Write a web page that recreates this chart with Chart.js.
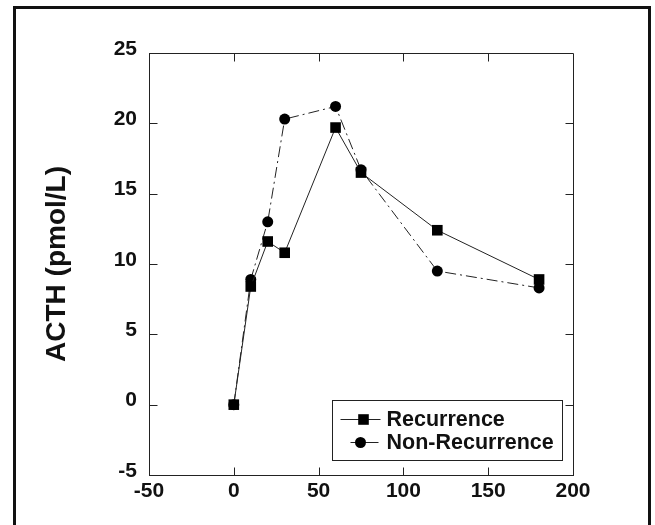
<!DOCTYPE html>
<html>
<head>
<meta charset="utf-8">
<script src="https://cdn.jsdelivr.net/npm/chart.js@4.4.1/dist/chart.umd.min.js"></script>
<style>
 body { margin: 0; background: #fff; overflow: hidden; }
 #wrap { position: relative; width: 655px; height: 525px; }
 #frame {
  position: absolute; left: 13px; top: 6px;
  width: 632px; height: 600px;
  border: 3px solid #111; pointer-events: none;
 }
</style>
</head>
<body>
<div id="wrap">
 <canvas id="acthChart" width="655" height="525"></canvas>
 <div id="frame"></div>
</div>
<script>
// minutes after stimulation
var timePoints = [0, 10, 20, 30, 60, 75, 120, 180];
var recurrenceValues = [0, 8.4, 11.6, 10.8, 19.7, 16.5, 12.4, 8.9];
var nonRecurrenceValues = [0, 8.9, 13.0, 20.3, 21.2, 16.7, 9.5, 8.3];
var seriesNames = ["Recurrence", "Non-Recurrence"];
var yTitle = "ACTH (pmol/L)";

var fontFamily = "'Liberation Sans', Arial, sans-serif";

function toPoints(values) {
 return timePoints.map(function (t, i) {
  return { x: t, y: values[i] };
 });
}

// plot box + inward tick marks on all four sides
var frameTicks = {
 id: "frameTicks",
 afterDraw: function (chart) {
  var ctx = chart.ctx;
  var area = chart.chartArea;
  var xs = chart.scales.x;
  var ys = chart.scales.y;
  var l = Math.round(area.left) + 0.5;
  var r = Math.round(area.right) + 0.5;
  var t = Math.round(area.top) + 0.5;
  var b = Math.round(area.bottom) + 0.5;
  ctx.save();
  ctx.strokeStyle = "#222";
  ctx.lineWidth = 1;
  ctx.beginPath();
  ctx.rect(l, t, r - l, b - t);
  ys.ticks.forEach(function (tk) {
   if (tk.value <= ys.min || tk.value >= ys.max) return;
   var py = Math.round(ys.getPixelForValue(tk.value)) + 0.5;
   ctx.moveTo(l, py); ctx.lineTo(l + 8, py);
   ctx.moveTo(r, py); ctx.lineTo(r - 8, py);
  });
  xs.ticks.forEach(function (tk) {
   if (tk.value <= xs.min || tk.value >= xs.max) return;
   var px = Math.round(xs.getPixelForValue(tk.value)) + 0.5;
   ctx.moveTo(px, b); ctx.lineTo(px, b - 8);
   ctx.moveTo(px, t); ctx.lineTo(px, t + 8);
  });
  ctx.stroke();
  ctx.restore();
 }
};

// boxed legend inside the plot, bottom right
var boxLegend = {
 id: "boxLegend",
 afterDraw: function (chart) {
  var ctx = chart.ctx;
  var area = chart.chartArea;
  var x0 = Math.round(area.left) + 183.5;
  var y0 = Math.round(area.top) + 347.5;
  var w = 230, h = 60;
  var lines = [[8, 48, 31], [18, 46, 28]];
  ctx.save();
  ctx.fillStyle = "#fff";
  ctx.fillRect(x0, y0, w, h);
  ctx.strokeStyle = "#222";
  ctx.lineWidth = 1;
  ctx.strokeRect(x0, y0, w, h);
  chart.data.datasets.forEach(function (ds, i) {
   var cy = y0 + 19 + i * 23;
   ctx.strokeStyle = ds.borderColor;
   ctx.lineWidth = 1;
   ctx.setLineDash([]);
   ctx.beginPath();
   ctx.moveTo(x0 + lines[i][0], cy);
   ctx.lineTo(x0 + lines[i][1], cy);
   ctx.stroke();
   ctx.fillStyle = ds.pointBackgroundColor;
   Chart.helpers.drawPoint(ctx, {
    pointStyle: ds.pointStyle,
    radius: ds.pointRadius,
    rotation: 0,
    borderWidth: 0
   }, x0 + lines[i][2], cy);
   ctx.fillStyle = "#111";
   ctx.font = "bold 21.5px " + fontFamily;
   ctx.textBaseline = "middle";
   ctx.textAlign = "left";
   ctx.fillText(ds.label, x0 + 54, cy + 1);
  });
  ctx.restore();
 }
};

new Chart(document.getElementById("acthChart"), {
 type: "scatter",
 data: {
  datasets: [
   {
    label: seriesNames[0],
    data: toPoints(recurrenceValues),
    showLine: true,
    borderColor: "#222",
    borderWidth: 1,
    pointStyle: "rect",
    pointRadius: 7.5,
    pointBackgroundColor: "#000",
    pointBorderWidth: 0
   },
   {
    label: seriesNames[1],
    data: toPoints(nonRecurrenceValues),
    showLine: true,
    borderColor: "#222",
    borderWidth: 1,
    borderDash: [11, 4, 2, 4],
    pointStyle: "circle",
    pointRadius: 5.5,
    pointBackgroundColor: "#000",
    pointBorderWidth: 0
   }
  ]
 },
 options: {
  responsive: false,
  animation: false,
  layout: { padding: { top: 53, right: 82, left: 0, bottom: 0 } },
  plugins: {
   legend: { display: false },
   tooltip: { enabled: false }
  },
  scales: {
   x: {
    type: "linear",
    min: -50,
    max: 200,
    grid: { display: false, drawTicks: false },
    border: { display: true, color: "#222", width: 1 },
    ticks: {
     stepSize: 50,
     padding: 4,
     color: "#111",
     font: { family: fontFamily, size: 21, weight: "bold" }
    },
    afterFit: function (scale) { scale.height = 50; }
   },
   y: {
    type: "linear",
    min: -5,
    max: 25,
    grid: { display: false, drawTicks: false },
    border: { display: true, color: "#222", width: 1 },
    ticks: {
     stepSize: 5,
     padding: 12,
     labelOffset: -4,
     color: "#111",
     font: { family: fontFamily, size: 21, weight: "bold" }
    },
    title: {
     display: true,
     text: yTitle,
     color: "#111",
     padding: { top: 40, bottom: 0 },
     font: { family: fontFamily, size: 28, weight: "bold" }
    },
    afterFit: function (scale) { scale.width = 149; }
   }
  }
 },
 plugins: [frameTicks, boxLegend]
});
</script>
</body>
</html>
